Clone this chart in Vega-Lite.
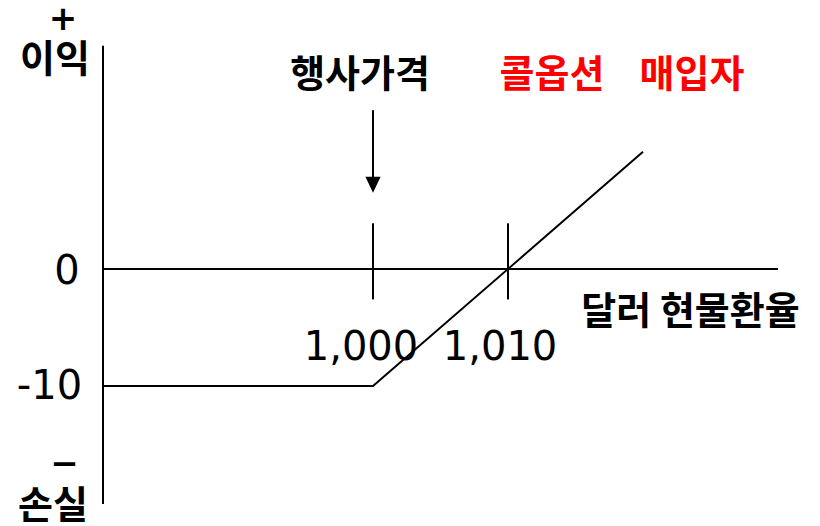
{
  "$schema": "https://vega.github.io/schema/vega-lite/v6.json",
  "width": 820,
  "height": 526,
  "autosize": {"type": "fit", "contains": "padding"},
  "padding": 0,
  "background": "white",
  "config": {"view": {"stroke": null}, "text": {"font": "Noto Sans CJK KR"}},
  "datasets": {
    "axes": [
      {"x": 980, "y": 19.07, "x2": 980, "y2": -20.08},
      {"x": 980, "y": 0, "x2": 1030, "y2": 0}
    ],
    "ticks": [
      {"x": 1000, "y": 3.9, "x2": 1000, "y2": -2.6},
      {"x": 1010, "y": 3.9, "x2": 1010, "y2": -2.6}
    ],
    "payoff": [
      {"x": 980, "y": -10},
      {"x": 1000, "y": -10},
      {"x": 1020, "y": 10}
    ],
    "arrow": [{"x": 1000, "y": 13.56, "x2": 1000, "y2": 7.8}],
    "arrowhead": [{"x": 1000, "y": 7.2}],
    "signs": [
      {"x": 977.04, "y": 21.3, "label": "+"},
      {"x": 977.15, "y": -16.7, "label": "−"}
    ],
    "koreanLabels": [
      {"x": 976.44, "y": 17.8, "label": "이익"},
      {"x": 976.3, "y": -20.3, "label": "손실"},
      {"x": 999.04, "y": 16.45, "label": "행사가격"},
      {"x": 1023.52, "y": -3.8, "label": "달러 현물환율"}
    ],
    "numberLabels": [
      {"x": 977.33, "y": -0.25, "label": "0"},
      {"x": 976.04, "y": -10.1, "label": "-10"},
      {"x": 999.11, "y": -6.75, "label": "1,000"},
      {"x": 1009.41, "y": -6.75, "label": "1,010"}
    ],
    "redLabels": [
      {"x": 1013.26, "y": 16.45, "label": "콜옵션"},
      {"x": 1023.63, "y": 16.45, "label": "매입자"}
    ]
  },
  "encoding": {
    "x": {"field": "x", "type": "quantitative", "axis": null, "scale": {"domain": [972.37, 1033.11], "nice": false, "zero": false}},
    "y": {"field": "y", "type": "quantitative", "axis": null, "scale": {"domain": [-21.61, 22.97], "nice": false, "zero": false}}
  },
  "layer": [
    {
      "data": {"name": "axes"},
      "mark": {"type": "rule", "color": "black", "strokeWidth": 2},
      "encoding": {"x2": {"field": "x2"}, "y2": {"field": "y2"}}
    },
    {
      "data": {"name": "ticks"},
      "mark": {"type": "rule", "color": "black", "strokeWidth": 2},
      "encoding": {"x2": {"field": "x2"}, "y2": {"field": "y2"}}
    },
    {
      "data": {"name": "payoff"},
      "mark": {"type": "line", "color": "black", "strokeWidth": 2},
      "encoding": {"order": {"field": "x"}}
    },
    {
      "data": {"name": "arrow"},
      "mark": {"type": "rule", "color": "black", "strokeWidth": 2},
      "encoding": {"x2": {"field": "x2"}, "y2": {"field": "y2"}}
    },
    {
      "data": {"name": "arrowhead"},
      "mark": {"type": "point", "shape": "M-0.95,-1L0.95,-1L0,1Z", "size": 256, "filled": true, "color": "black", "opacity": 1}
    },
    {
      "data": {"name": "signs"},
      "mark": {"type": "text", "font": "DejaVu Sans", "fontSize": 34, "fontWeight": "bold", "align": "center", "baseline": "middle", "color": "black"},
      "encoding": {"text": {"field": "label"}}
    },
    {
      "data": {"name": "koreanLabels"},
      "mark": {"type": "text", "fontSize": 38, "fontWeight": "bold", "align": "center", "baseline": "middle", "color": "black"},
      "encoding": {"text": {"field": "label"}}
    },
    {
      "data": {"name": "numberLabels"},
      "mark": {"type": "text", "font": "DejaVu Sans", "fontSize": 40, "fontWeight": "normal", "align": "center", "baseline": "middle", "color": "black"},
      "encoding": {"text": {"field": "label"}}
    },
    {
      "data": {"name": "redLabels"},
      "mark": {"type": "text", "fontSize": 38, "fontWeight": "bold", "align": "center", "baseline": "middle", "color": "#ff0000"},
      "encoding": {"text": {"field": "label"}}
    }
  ]
}
